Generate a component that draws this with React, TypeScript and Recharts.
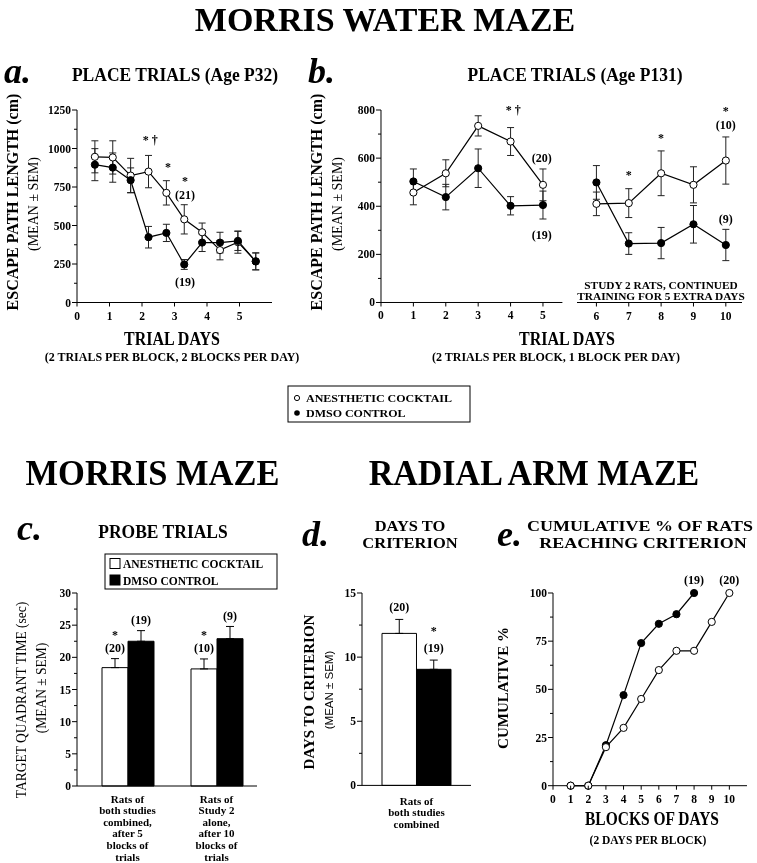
import React from 'react';
import {
  LineChart,
  Line,
  BarChart,
  Bar,
  XAxis,
  YAxis,
  ErrorBar,
  ReferenceDot,
  ReferenceLine,
  LabelList,
} from 'recharts';

const SERIF = '"Liberation Serif", "Times New Roman", serif';
const SANS = '"Liberation Sans", Arial, sans-serif';

// a. place trials, age P32 (half-day blocks)
const aBlocks = [0.55, 1.1, 1.65, 2.2, 2.75, 3.3, 3.85, 4.4, 4.95, 5.5];
const aCocktail = [946, 942, 824, 850, 712, 540, 456, 340, 392, 267];
const aCocktailSem = [104, 108, 112, 105, 79, 95, 60, 63, 72, 55];
const aDmso = [895, 876, 794, 424, 452, 247, 389, 389, 400, 267];
const aDmsoSem = [104, 95, 80, 70, 56, 32, 58, 67, 62, 55];
const aXTicks = [0, 1, 2, 3, 4, 5];
const aYTicks = [0, 125, 250, 375, 500, 625, 750, 875, 1000, 1125, 1250];
const aYLabels = [0, 250, 500, 750, 1000, 1250];
const aNotes = [
  { x: 2.25, y: 1060, text: '* †' },
  { x: 2.8, y: 880, text: '*' },
  { x: 3.32, y: 790, text: '*' },
  { x: 3.32, y: 698, text: '(21)' },
  { x: 3.32, y: 135, text: '(19)' },
];

// b. place trials, age P131 (days 1-5, then study 2 days 6-10)
const bDays1 = [1, 2, 3, 4, 5];
const bCocktail1 = [457, 537, 734, 669, 489];
const bCocktailSem1 = [51, 56, 42, 58, 66];
const bDmso1 = [503, 438, 558, 402, 405];
const bDmsoSem1 = [52, 53, 80, 38, 58];
const bDays2 = [6, 7, 8, 9, 10];
const bCocktail2 = [410, 413, 537, 489, 590];
const bCocktailSem2 = [49, 60, 93, 75, 98];
const bDmso2 = [499, 245, 247, 325, 239];
const bDmsoSem2 = [70, 45, 65, 78, 65];
const bXTicks1 = [0, 1, 2, 3, 4, 5];
const bXTicks2 = [6, 7, 8, 9, 10];
const bYTicks = [0, 100, 200, 300, 400, 500, 600, 700, 800];
const bYLabels = [0, 200, 400, 600, 800];
const bNotes1 = [
  { x: 4.08, y: 800, text: '* †' },
  { x: 4.96, y: 603, text: '(20)' },
  { x: 4.96, y: 280, text: '(19)' },
];
const bNotes2 = [
  { x: 7, y: 532, text: '*' },
  { x: 8, y: 685, text: '*' },
  { x: 10, y: 796, text: '*' },
  { x: 10, y: 738, text: '(10)' },
  { x: 10, y: 350, text: '(9)' },
];

// c. probe trials
const probeGroups = [
  ['Rats of', 'both studies', 'combined,', 'after 5', 'blocks of', 'trials'],
  ['Rats of', 'Study 2', 'alone,', 'after 10', 'blocks of', 'trials'],
];
const probeCocktail = [18.4, 18.2];
const probeCocktailSem = [1.4, 1.55];
const probeDmso = [22.5, 22.9];
const probeDmsoSem = [1.65, 1.9];
const probeCocktailNotes = [['*', '(20)'], ['*', '(10)']];
const probeDmsoNotes = [['(19)'], ['(9)']];
const chanceLevel = 15;
const cYTicks = [0, 2.5, 5, 7.5, 10, 12.5, 15, 17.5, 20, 22.5, 25, 27.5, 30];
const cYLabels = [0, 5, 10, 15, 20, 25, 30];

// d. days to criterion
const critGroups = [['Rats of', 'both studies', 'combined']];
const critCocktail = [11.85];
const critCocktailSem = [1.09];
const critDmso = [9.05];
const critDmsoSem = [0.72];
const critCocktailNotes = [['(20)']];
const critDmsoNotes = [['*', '(19)']];
const dYTicks = [0, 2.5, 5, 7.5, 10, 12.5, 15];
const dYLabels = [0, 5, 10, 15];

// e. cumulative % reaching criterion
const eBlocks = [1, 2, 3, 4, 5, 6, 7, 8, 9, 10];
const eCocktail = [0, 0, 20, 30, 45, 60, 70, 70, 85, 100];
const eDmso = [0, 0, 21, 47, 74, 84, 89, 100, null, null];
const eXTicks = [0, 1, 2, 3, 4, 5, 6, 7, 8, 9, 10];
const eYTicks = [0, 12.5, 25, 37.5, 50, 62.5, 75, 87.5, 100];
const eYLabels = [0, 25, 50, 75, 100];
const eNotes = [
  { x: 8, y: 107, text: '(19)' },
  { x: 10, y: 107, text: '(20)' },
];

const aData = aBlocks.map((x, i) => ({
  x,
  cocktail: aCocktail[i],
  cocktailSem: aCocktailSem[i],
  dmso: aDmso[i],
  dmsoSem: aDmsoSem[i],
}));
const bData1 = bDays1.map((x, i) => ({
  x,
  cocktail: bCocktail1[i],
  cocktailSem: bCocktailSem1[i],
  dmso: bDmso1[i],
  dmsoSem: bDmsoSem1[i],
}));
const bData2 = bDays2.map((x, i) => ({
  x,
  cocktail: bCocktail2[i],
  cocktailSem: bCocktailSem2[i],
  dmso: bDmso2[i],
  dmsoSem: bDmsoSem2[i],
}));
const probeData = probeGroups.map((g, i) => ({
  group: g.join(' '),
  cocktail: probeCocktail[i],
  cocktailErr: [0, probeCocktailSem[i]],
  dmso: probeDmso[i],
  dmsoErr: [0, probeDmsoSem[i]],
}));
const critData = critGroups.map((g, i) => ({
  group: g.join(' '),
  cocktail: critCocktail[i],
  cocktailErr: [0, critCocktailSem[i]],
  dmso: critDmso[i],
  dmsoErr: [0, critDmsoSem[i]],
}));
const eData = eBlocks.map((x, i) => ({ x, cocktail: eCocktail[i], dmso: eDmso[i] }));

const AX = { stroke: '#000', strokeWidth: 1 };
const M = { top: 20, right: 10, left: 0, bottom: 0 };
const OPEN = { r: 3.6, fill: '#fff', stroke: '#000', strokeWidth: 1 };
const FILLED = { r: 3.6, fill: '#000', stroke: '#000', strokeWidth: 1 };

// transparent composited layers keep small glyphs grey-scale antialiased
const pos = (left: number, top: number) => ({ position: 'absolute' as const, left, top, willChange: 'transform' });

const YTick = (props: any) => {
  const { x, y, payload, labels, size = 11.5 } = props;
  const major = labels.includes(payload.value);
  return (
    <g>
      <line x1={x - (major ? 5 : 3)} x2={x} y1={y} y2={y} stroke="#000" strokeWidth={1} />
      {major && (
        <text x={x - 6} y={y + 4} textAnchor="end" fontSize={size} fontWeight="bold" fontFamily={SERIF} fill="#000">
          {payload.value}
        </text>
      )}
    </g>
  );
};

const XTick = (props: any) => {
  const { x, y, payload } = props;
  return (
    <g>
      <line x1={x} x2={x} y1={y} y2={y + 4} stroke="#000" strokeWidth={1} />
      <text x={x} y={y + 17} textAnchor="middle" fontSize={11.5} fontWeight="bold" fontFamily={SERIF} fill="#000">
        {payload.value}
      </text>
    </g>
  );
};

const CatTick = (props: any) => {
  const { x, y, index, lines, first } = props;
  return (
    <g>
      {lines[index].map((t: string, i: number) => (
        <text key={i} x={x} y={y + first + i * 11.6} textAnchor="middle" fontSize={11} fontWeight="bold" fontFamily={SERIF} fill="#000">
          {t}
        </text>
      ))}
    </g>
  );
};

// notes stacked above the top of a bar's error bar
const barNote = (notes: string[][], values: number[], sems: number[], gap: number, lift: number) => (props: any) => {
  const vb = props.viewBox || props;
  const { x, y, width } = vb;
  const h = Math.abs(vb.height);
  const i = props.index;
  const top = y - sems[i] * (h / values[i]);
  const lines = notes[i];
  return (
    <g>
      {lines.map((t, k) => (
        <text
          key={k}
          x={x + width / 2}
          y={top - lift - (lines.length - 1 - k) * gap}
          textAnchor="middle"
          fontSize={12}
          fontWeight="bold"
          fontFamily={SERIF}
          fill="#000"
        >
          {t}
        </text>
      ))}
    </g>
  );
};

const note = (n: { x: number; y: number; text: string }, i: number) => (
  <ReferenceDot
    key={i}
    x={n.x}
    y={n.y}
    r={0}
    fill="none"
    stroke="none"
    ifOverflow="visible"
    label={{ value: n.text, position: 'center', fontSize: 12, fontWeight: 'bold', fontFamily: SERIF, fill: '#000' }}
  />
);

const T = ({ x, y, s = 12, w = 'bold', a = 'middle', sx = 1, sy = 1.05, it = false, rot = false, f = SERIF, children }: any) => (
  <text
    transform={`translate(${x},${y})${rot ? ' rotate(-90)' : ''} scale(${sx},${sy})`}
    fontSize={s}
    fontWeight={w}
    fontStyle={it ? 'italic' : 'normal'}
    textAnchor={a}
    fontFamily={f}
    fill="#000"
  >
    {children}
  </text>
);

const lineYAxis = (domain: number[], ticks: number[], labels: number[]) => (
  <YAxis
    type="number"
    domain={domain}
    ticks={ticks}
    interval={0}
    tickSize={0}
    tickMargin={0}
    tickLine={false}
    axisLine={AX}
    tick={<YTick labels={labels} />}
    width={40}
  />
);

const numXAxis = (domain: number[], ticks: number[]) => (
  <XAxis
    dataKey="x"
    type="number"
    domain={domain}
    ticks={ticks}
    interval={0}
    tickSize={0}
    tickMargin={0}
    tickLine={false}
    axisLine={AX}
    tick={<XTick />}
    height={30}
  />
);

export default function App() {
  return (
    <div style={{ position: 'absolute', left: 0, top: 0, width: 757, height: 863, background: '#fff', overflow: 'hidden' }}>
      {/* a */}
      <div style={pos(37, 90)}>
        <LineChart width={245} height={242.5} data={aData} margin={M}>
          {numXAxis([0, 6], aXTicks)}
          {lineYAxis([0, 1250], aYTicks, aYLabels)}
          <Line dataKey="cocktail" type="linear" stroke="#000" strokeWidth={1.2} dot={OPEN} activeDot={false} isAnimationActive={false}>
            <ErrorBar dataKey="cocktailSem" width={3.5} stroke="#222" strokeWidth={1} isAnimationActive={false} />
          </Line>
          <Line dataKey="dmso" type="linear" stroke="#000" strokeWidth={1.2} dot={FILLED} activeDot={false} isAnimationActive={false}>
            <ErrorBar dataKey="dmsoSem" width={3.5} stroke="#222" strokeWidth={1} isAnimationActive={false} />
          </Line>
          {aNotes.map(note)}
        </LineChart>
      </div>

      {/* b, days 1-5 */}
      <div style={pos(341, 90)}>
        <LineChart width={231.4} height={242.5} data={bData1} margin={M}>
          {numXAxis([0, 5.6], bXTicks1)}
          {lineYAxis([0, 800], bYTicks, bYLabels)}
          <Line dataKey="cocktail" type="linear" stroke="#000" strokeWidth={1.2} dot={OPEN} activeDot={false} isAnimationActive={false}>
            <ErrorBar dataKey="cocktailSem" width={3.5} stroke="#222" strokeWidth={1} isAnimationActive={false} />
          </Line>
          <Line dataKey="dmso" type="linear" stroke="#000" strokeWidth={1.2} dot={FILLED} activeDot={false} isAnimationActive={false}>
            <ErrorBar dataKey="dmsoSem" width={3.5} stroke="#222" strokeWidth={1} isAnimationActive={false} />
          </Line>
          {bNotes1.map(note)}
        </LineChart>
      </div>

      {/* b, days 6-10 */}
      <div style={pos(567.3, 90)}>
        <LineChart width={185} height={242.5} data={bData2} margin={{ top: 20, right: 10, left: 10, bottom: 0 }}>
          {numXAxis([5.4, 10.5], bXTicks2)}
          <YAxis type="number" domain={[0, 800]} hide />
          <Line dataKey="cocktail" type="linear" stroke="#000" strokeWidth={1.2} dot={OPEN} activeDot={false} isAnimationActive={false}>
            <ErrorBar dataKey="cocktailSem" width={3.5} stroke="#222" strokeWidth={1} isAnimationActive={false} />
          </Line>
          <Line dataKey="dmso" type="linear" stroke="#000" strokeWidth={1.2} dot={FILLED} activeDot={false} isAnimationActive={false}>
            <ErrorBar dataKey="dmsoSem" width={3.5} stroke="#222" strokeWidth={1} isAnimationActive={false} />
          </Line>
          {bNotes2.map(note)}
        </LineChart>
      </div>

      {/* c: dashed chance line sits behind the bars */}
      <div style={pos(36.7, 572.7)}>
        <BarChart width={230} height={293} data={probeData} margin={M}>
          <XAxis dataKey="group" tick={false} tickLine={false} axisLine={false} height={80} />
          <YAxis type="number" domain={[0, 30]} tick={false} tickLine={false} axisLine={false} width={40} />
          <ReferenceLine y={chanceLevel} stroke="#000" strokeWidth={1} strokeDasharray="4 3" />
        </BarChart>
      </div>
      <div style={pos(36.7, 572.7)}>
        <BarChart width={230} height={293} data={probeData} margin={M} barGap={0} barSize={26}>
          <XAxis
            dataKey="group"
            interval={0}
            tickSize={0}
            tickMargin={0}
            tickLine={false}
            axisLine={AX}
            tick={<CatTick lines={probeGroups} first={16.5} />}
            height={80}
            padding={{ left: 6, right: -4 }}
          />
          {lineYAxis([0, 30], cYTicks, cYLabels)}
          <Bar dataKey="cocktail" fill="#fff" stroke="#000" strokeWidth={1} isAnimationActive={false}>
            <ErrorBar dataKey="cocktailErr" width={4} stroke="#000" strokeWidth={1} isAnimationActive={false} />
            <LabelList dataKey="cocktail" content={barNote(probeCocktailNotes, probeCocktail, probeCocktailSem, 13.3, 6.5)} />
          </Bar>
          <Bar dataKey="dmso" fill="#000" stroke="#000" strokeWidth={1} isAnimationActive={false}>
            <ErrorBar dataKey="dmsoErr" width={4} stroke="#000" strokeWidth={1} isAnimationActive={false} />
            <LabelList dataKey="dmso" content={barNote(probeDmsoNotes, probeDmso, probeDmsoSem, 13.3, 6.5)} />
          </Bar>
        </BarChart>
      </div>

      {/* d */}
      <div style={pos(321.7, 573.3)}>
        <BarChart width={159} height={262.4} data={critData} margin={M} barGap={0} barSize={34.5}>
          <XAxis
            dataKey="group"
            interval={0}
            tickSize={0}
            tickMargin={0}
            tickLine={false}
            axisLine={AX}
            tick={<CatTick lines={critGroups} first={19.5} />}
            height={50}
          />
          {lineYAxis([0, 15], dYTicks, dYLabels)}
          <Bar dataKey="cocktail" fill="#fff" stroke="#000" strokeWidth={1} isAnimationActive={false}>
            <ErrorBar dataKey="cocktailErr" width={4} stroke="#000" strokeWidth={1} isAnimationActive={false} />
            <LabelList dataKey="cocktail" content={barNote(critCocktailNotes, critCocktail, critCocktailSem, 17, 8)} />
          </Bar>
          <Bar dataKey="dmso" fill="#000" stroke="#000" strokeWidth={1} isAnimationActive={false}>
            <ErrorBar dataKey="dmsoErr" width={4} stroke="#000" strokeWidth={1} isAnimationActive={false} />
            <LabelList dataKey="dmso" content={barNote(critDmsoNotes, critDmso, critDmsoSem, 17, 8)} />
          </Bar>
        </BarChart>
      </div>

      {/* e */}
      <div style={pos(513.3, 573.3)}>
        <LineChart width={244} height={242.7} data={eData} margin={M}>
          {numXAxis([0, 11], eXTicks)}
          {lineYAxis([0, 100], eYTicks, eYLabels)}
          <Line dataKey="dmso" type="linear" stroke="#000" strokeWidth={1.2} dot={FILLED} activeDot={false} isAnimationActive={false} />
          <Line dataKey="cocktail" type="linear" stroke="#000" strokeWidth={1.2} dot={OPEN} activeDot={false} isAnimationActive={false} />
          {eNotes.map(note)}
        </LineChart>
      </div>

      <svg width={757} height={863} style={{ position: 'absolute', left: 0, top: 0, pointerEvents: 'none', willChange: 'transform' }}>
        <T x={385} y={31} s={34} sy={1}>MORRIS WATER MAZE</T>

        <T x={4} y={83} s={36} a="start" it sy={1}>a.</T>
        <T x={175} y={81} s={17.5}>PLACE TRIALS (Age P32)</T>
        <T x={18} y={202} s={16} rot sy={1}>ESCAPE PATH LENGTH (cm)</T>
        <T x={38} y={204} s={14} w="normal" rot sy={1}>(MEAN ± SEM)</T>
        <T x={172} y={345} s={16} sy={1.15}>TRIAL DAYS</T>
        <T x={172} y={361} s={12} sy={1}>(2 TRIALS PER BLOCK, 2 BLOCKS  PER DAY)</T>

        <T x={308} y={83} s={36} a="start" it sy={1}>b.</T>
        <T x={575} y={81} s={17.5}>PLACE TRIALS (Age P131)</T>
        <T x={322} y={202} s={16} rot sy={1}>ESCAPE PATH LENGTH (cm)</T>
        <T x={342} y={204} s={14} w="normal" rot sy={1}>(MEAN ± SEM)</T>
        <T x={567} y={345} s={16} sy={1.15}>TRIAL DAYS</T>
        <T x={556} y={361} s={12} sy={1}>(2 TRIALS PER BLOCK, 1 BLOCK  PER DAY)</T>
        <T x={661} y={288.5} s={10.3} sx={1.1} sy={1}>STUDY 2 RATS, CONTINUED</T>
        <T x={661} y={300.3} s={10.3} sx={1.1} sy={1}>TRAINING FOR 5 EXTRA DAYS</T>

        <rect x={288} y={386} width={182} height={36} fill="none" stroke="#000" strokeWidth={1} />
        <circle cx={297} cy={398} r={2.6} fill="#fff" stroke="#000" strokeWidth={1} />
        <circle cx={297} cy={413} r={2.8} fill="#000" />
        <T x={306} y={402} s={12} a="start" sy={0.95}>ANESTHETIC COCKTAIL</T>
        <T x={306} y={417} s={12} a="start" sy={0.95}>DMSO CONTROL</T>

        <T x={152.5} y={485} s={34.5}>MORRIS MAZE</T>
        <T x={534} y={485} s={34}>RADIAL ARM MAZE</T>

        <T x={17} y={540} s={36} a="start" it sy={1}>c.</T>
        <T x={163} y={538} s={17.5}>PROBE TRIALS</T>
        <rect x={105} y={554} width={172} height={35} fill="none" stroke="#000" strokeWidth={1} />
        <rect x={110} y={558.5} width={10} height={10} fill="#fff" stroke="#000" strokeWidth={1} />
        <rect x={110} y={575} width={10} height={10} fill="#000" stroke="#000" strokeWidth={1} />
        <T x={123} y={568} s={11.5} a="start" sy={1}>ANESTHETIC COCKTAIL</T>
        <T x={123} y={585} s={11.5} a="start" sy={1}>DMSO CONTROL</T>
        <T x={26} y={700} s={13.5} w="normal" rot sy={1.1}>TARGET QUADRANT TIME (sec)</T>
        <T x={46} y={688} s={13.5} w="normal" rot sy={1.1}>(MEAN ± SEM)</T>

        <T x={302} y={546} s={36} a="start" it sy={1}>d.</T>
        <T x={410} y={531} s={15} sx={1.1} sy={0.95}>DAYS TO</T>
        <T x={410} y={548} s={15} sx={1.1} sy={0.95}>CRITERION</T>
        <T x={314} y={692} s={15} rot sy={1}>DAYS TO CRITERION</T>
        <T x={333} y={690} s={11.5} w="normal" f={SANS} rot sy={1}>(MEAN ± SEM)</T>

        <T x={497} y={546} s={36} a="start" it sy={1}>e.</T>
        <T x={640} y={531} s={15} sx={1.2} sy={0.95}>CUMULATIVE % OF RATS</T>
        <T x={643} y={548} s={15} sx={1.2} sy={0.95}>REACHING CRITERION</T>
        <T x={508} y={688} s={15} rot sy={1}>CUMULATIVE %</T>
        <T x={652} y={825} s={15.5} sy={1.15}>BLOCKS OF DAYS</T>
        <T x={648} y={844} s={11.5} sy={1}>(2 DAYS PER BLOCK)</T>
      </svg>
    </div>
  );
}
